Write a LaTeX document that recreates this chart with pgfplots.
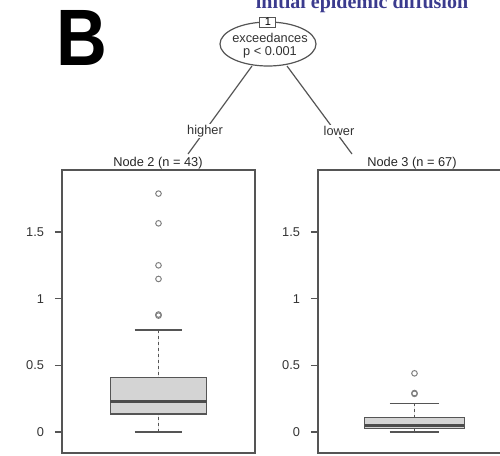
\documentclass[border=0pt]{standalone}
\usepackage{fontspec}
\setmainfont{Liberation Sans}
\newfontfamily\titleserif{Liberation Serif}
\usepackage{pgfplots}
\pgfplotsset{compat=1.18}
\usepgfplotslibrary{statistics}

\definecolor{frame}{HTML}{555555}
\definecolor{boxfill}{HTML}{D4D4D4}
\definecolor{titleblue}{HTML}{3B3B8E}

\pgfplotsset{
  panel/.style={
    scale only axis, width=96.5pt, height=141.5pt, anchor=north west,
    xmin=0, xmax=2, ymin=-0.1575, ymax=1.965,
    xtick=\empty, ytick={0,0.5,1,1.5}, yticklabels={0,0.5,1,1.5},
    ytick pos=left, tick align=outside, major tick length=3.5pt,
    axis line style={frame, line width=0.8pt},
    tick style={frame, line width=0.6pt},
    yticklabel style={font=\fontsize{6.4}{7.5}\selectfont, text=black!80, xshift=-2pt},
    boxplot/draw direction=y,
    boxplot/draw/lower whisker/.code={
      \draw[frame, line width=0.6pt, dash pattern=on 1.5pt off 1.5pt]
        (boxplot box cs:\pgfplotsboxplotvalue{lower whisker},0.5) --
        (boxplot box cs:\pgfplotsboxplotvalue{lower quartile},0.5);
      \draw[frame, line width=0.6pt]
        (boxplot whisker cs:\pgfplotsboxplotvalue{lower whisker},0) --
        (boxplot whisker cs:\pgfplotsboxplotvalue{lower whisker},1);
    },
    boxplot/draw/upper whisker/.code={
      \draw[frame, line width=0.6pt, dash pattern=on 1.5pt off 1.5pt]
        (boxplot box cs:\pgfplotsboxplotvalue{upper whisker},0.5) --
        (boxplot box cs:\pgfplotsboxplotvalue{upper quartile},0.5);
      \draw[frame, line width=0.6pt]
        (boxplot whisker cs:\pgfplotsboxplotvalue{upper whisker},0) --
        (boxplot whisker cs:\pgfplotsboxplotvalue{upper whisker},1);
    },
  },
  nodebox/.style={
    draw=frame, fill=boxfill, line width=0.6pt,
    mark=o, mark size=1.4pt,
    mark options={draw=black!50, fill=none, line width=0.5pt, solid},
  },
}

\begin{document}
\begin{tikzpicture}[x=0.5pt, y=-0.5pt]
\path[use as bounding box] (0,0) rectangle (500,456);
\clip (0,0) rectangle (500,456);

% panel letter and title
\node[anchor=base west, inner sep=0, xscale=0.88] at (56,65)
  {\fontsize{40}{41}\selectfont\bfseries B};
\node[anchor=base, inner sep=0, text=titleblue] at (362,8)
  {\titleserif\bfseries\fontsize{10}{12}\selectfont initial epidemic diffusion};

% tree
\draw[frame, line width=0.6pt] (252,66) -- (188,154);
\draw[frame, line width=0.6pt] (287,66) -- (352,154);
\draw[frame, line width=0.6pt, fill=white] (268,44) ellipse (24pt and 11pt);
\node[draw=frame, line width=0.5pt, fill=white, inner sep=0.6pt,
      minimum width=8pt, minimum height=5pt,
      font=\fontsize{5.5}{6}\selectfont] at (268,22) {1};
\node[font=\fontsize{6.4}{7.5}\selectfont, text=black!80] at (270,38) {exceedances};
\node[font=\fontsize{6.4}{7.5}\selectfont, text=black!80] at (270,52) {p < 0.001};
\node[fill=white, inner sep=0.5pt, font=\fontsize{6.4}{7.5}\selectfont, text=black!80]
  at (205,131) {higher};
\node[fill=white, inner sep=0.5pt, font=\fontsize{6.4}{7.5}\selectfont, text=black!80]
  at (339,131) {lower};
\node[font=\fontsize{6.4}{7.5}\selectfont, text=black!85] at (158,163) {Node 2 (n = 43)};
\node[font=\fontsize{6.4}{7.5}\selectfont, text=black!85] at (412,163) {Node 3 (n = 67)};

% Node 2: higher exceedances
\begin{axis}[panel, at={(31pt,-85pt)}]
  \addplot[nodebox, boxplot prepared={
      draw position=1, box extend=1, whisker extend=0.49,
      lower whisker=0, lower quartile=0.135, median=0.227,
      upper quartile=0.41, upper whisker=0.765,
      every median/.style={line width=1.5pt, draw=black!70}}]
    table[row sep=\\, y index=0] {y\\ 0.873\\ 0.881\\ 1.148\\ 1.25\\ 1.565\\ 1.788\\};
\end{axis}

% Node 3: lower exceedances
\begin{axis}[panel, at={(159pt,-85pt)}]
  \addplot[nodebox, boxplot prepared={
      draw position=1, box extend=1.03, whisker extend=0.51,
      lower whisker=0, lower quartile=0.028, median=0.048,
      upper quartile=0.107, upper whisker=0.215,
      every median/.style={line width=1.5pt, draw=black!70}}]
    table[row sep=\\, y index=0] {y\\ 0.286\\ 0.292\\ 0.44\\};
\end{axis}
\end{tikzpicture}
\end{document}
